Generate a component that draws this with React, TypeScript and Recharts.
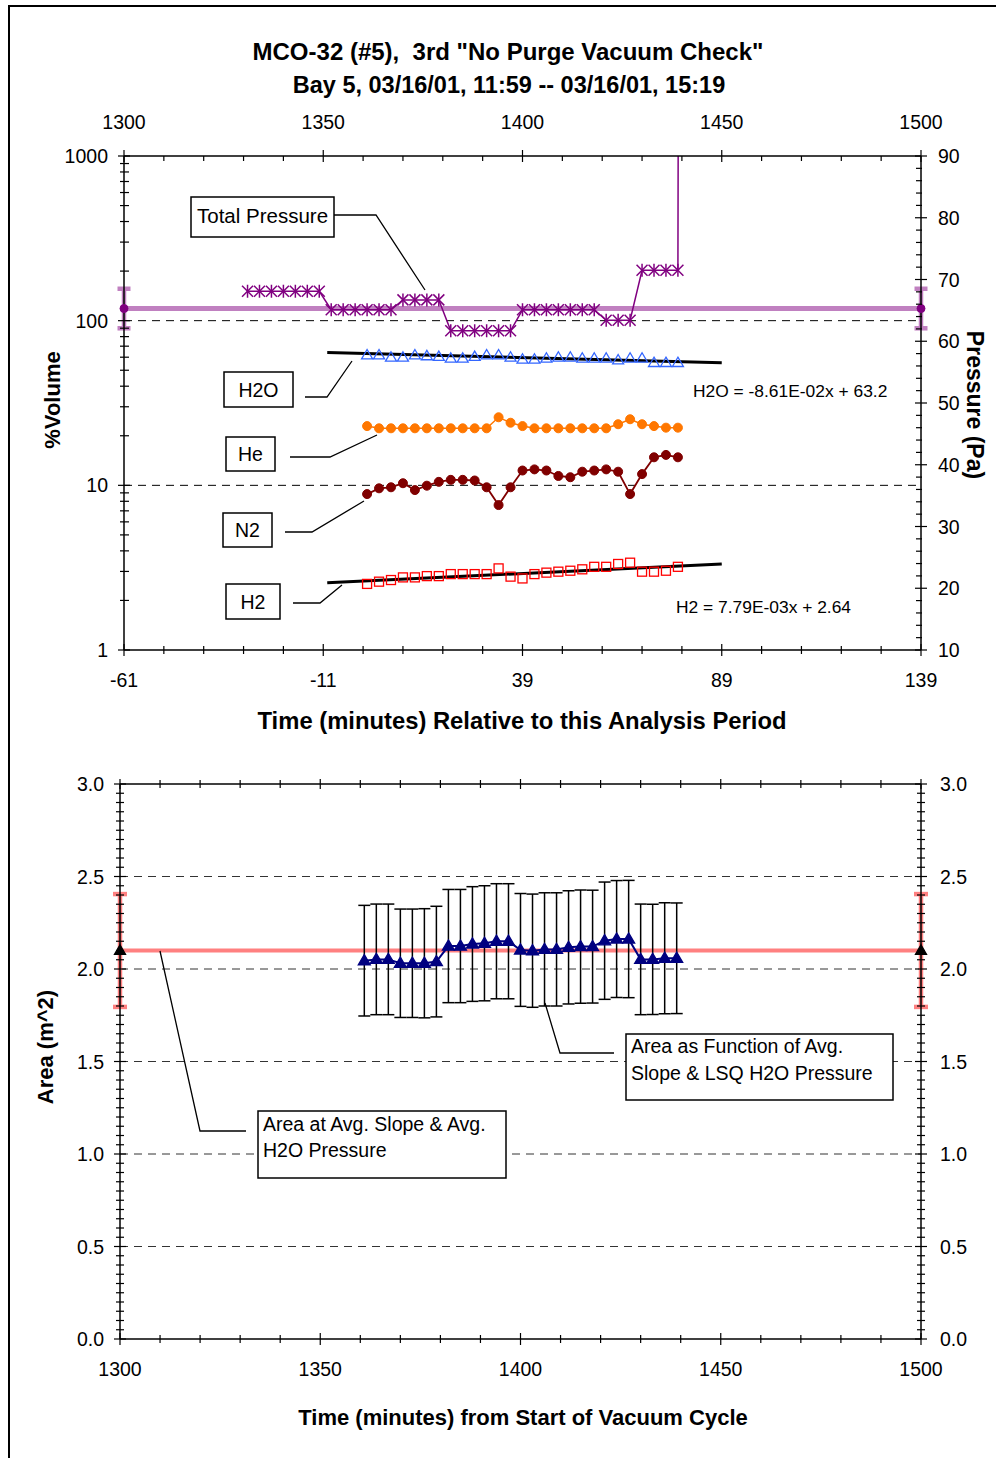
import React from 'react';
import { ComposedChart, Line, XAxis, YAxis, ErrorBar, ReferenceLine } from 'recharts';

const FONT = '"Liberation Sans", Arial, Helvetica, sans-serif';

// gas samples, minutes from start of vacuum cycle
const gasTimes = [1361, 1364, 1367, 1370, 1373, 1376, 1379, 1382, 1385, 1388, 1391, 1394, 1397, 1400, 1403, 1406, 1409, 1412, 1415, 1418, 1421, 1424, 1427, 1430, 1433, 1436, 1439];
const h2oPct = [61.8, 61.8, 59.9, 59.9, 61.8, 61.0, 60.4, 59.0, 59.0, 60.4, 61.8, 61.8, 59.9, 58.2, 58.2, 59.0, 59.9, 59.9, 59.0, 59.0, 59.0, 57.6, 59.0, 59.0, 55.5, 55.5, 55.5];
const hePct = [22.9, 22.2, 22.2, 22.2, 22.2, 22.2, 22.2, 22.2, 22.2, 22.2, 22.2, 25.9, 24.0, 22.9, 22.2, 22.2, 22.2, 22.2, 22.2, 22.2, 22.2, 23.5, 25.2, 23.5, 22.9, 22.4, 22.4];
const n2Pct = [8.85, 9.59, 9.73, 10.3, 9.36, 9.95, 10.5, 10.8, 10.8, 10.7, 9.73, 7.59, 9.73, 12.3, 12.5, 12.3, 11.4, 11.2, 12.1, 12.3, 12.5, 12.1, 8.85, 11.7, 14.8, 15.3, 14.8];
const h2Pct = [2.52, 2.6, 2.66, 2.76, 2.76, 2.81, 2.81, 2.89, 2.89, 2.89, 2.89, 3.13, 2.79, 2.72, 2.89, 2.95, 2.99, 3.03, 3.09, 3.2, 3.2, 3.33, 3.39, 2.99, 2.99, 3.03, 3.2];

// least squares lines, end points
const fitTimes = [1351, 1450];
const h2oFit = [64.1, 55.5];
const h2Fit = [2.56, 3.33];

// total pressure (Pa); last reading is off scale
const tpTimes = [1331, 1334, 1337, 1340, 1343, 1346, 1349, 1352, 1355, 1358, 1361, 1364, 1367, 1370, 1373, 1376, 1379, 1382, 1385, 1388, 1391, 1394, 1397, 1400, 1403, 1406, 1409, 1412, 1415, 1418, 1421, 1424, 1427, 1430, 1433, 1436, 1439, 1442];
const tpPa = [68.1, 68.1, 68.1, 68.1, 68.1, 68.1, 68.1, 65.1, 65.1, 65.1, 65.1, 65.1, 65.1, 66.7, 66.7, 66.7, 66.7, 61.7, 61.7, 61.7, 61.7, 61.7, 61.7, 65.1, 65.1, 65.1, 65.1, 65.1, 65.1, 65.1, 63.4, 63.4, 63.4, 71.5, 71.5, 71.5, 71.5, 1000];

// period averages
const avgTimes = [1300, 1500];
const avgPa = [65.3, 65.3];
const avgPaErr = [3.2, 3.2];
const avgArea = [2.1, 2.1];
const avgAreaErr = [0.305, 0.305];

// area per sample
const areaM2 = [2.045, 2.052, 2.052, 2.031, 2.031, 2.031, 2.04, 2.124, 2.124, 2.135, 2.139, 2.15, 2.15, 2.103, 2.099, 2.106, 2.106, 2.117, 2.121, 2.121, 2.153, 2.162, 2.162, 2.052, 2.052, 2.058, 2.058];
const areaErr = [0.299, 0.299, 0.299, 0.293, 0.293, 0.295, 0.299, 0.306, 0.306, 0.31, 0.311, 0.311, 0.311, 0.305, 0.306, 0.306, 0.306, 0.306, 0.306, 0.305, 0.317, 0.316, 0.317, 0.299, 0.298, 0.3, 0.299];

const periodStart = 1361; // analysis period start, for the relative axis
const logGrid = [10, 100];
const areaGrid = [0.5, 1.0, 1.5, 2.0, 2.5];

const gasData = gasTimes.map((t, i) => ({ t, h2o: h2oPct[i], he: hePct[i], n2: n2Pct[i], h2: h2Pct[i], area: areaM2[i], err: areaErr[i] }));
const fitData = fitTimes.map((t, i) => ({ t, h2o: h2oFit[i], h2: h2Fit[i] }));
const tpData = tpTimes.map((t, i) => ({ t, v: tpPa[i] }));
const avgData = avgTimes.map((t, i) => ({ t, pa: avgPa[i], paErr: avgPaErr[i], area: avgArea[i], areaErr: avgAreaErr[i] }));

// tick positions
const absTicks: number[] = [];
for (let v = 1300; v <= 1500; v += 10) absTicks.push(v);
const logTicks: number[] = [];
[1, 10, 100].forEach((d) => { for (let m = 1; m < 10; m++) logTicks.push(d * m); });
logTicks.push(1000);
const paTicks: number[] = [];
for (let v = 10; v <= 90; v += 2) paTicks.push(v);
const areaTicks: number[] = [];
for (let i = 0; i <= 60; i++) areaTicks.push(i / 20);

type Side = 'left' | 'right' | 'top' | 'bottom';
interface TickSpec {
  side: Side;
  isMajor: (v: number) => boolean;
  label?: (v: number) => string;
  major: [number, number]; // outside, inside
  minor: [number, number];
  gap: number;
}

const makeTick = (s: TickSpec) => (props: any) => {
  const { x, y, payload, index } = props;
  const v = payload.value;
  const maj = s.isMajor(v);
  const [out, inn] = maj ? s.major : s.minor;
  const txt = maj && s.label ? s.label(v) : '';
  const ln = { stroke: '#000', strokeWidth: 1.2 };
  let line;
  let text;
  if (s.side === 'left') {
    line = <line x1={x - out} x2={x + inn} y1={y} y2={y} {...ln} />;
    text = <text x={x - s.gap} y={y} dy="0.36em" textAnchor="end">{txt}</text>;
  } else if (s.side === 'right') {
    line = <line x1={x - inn} x2={x + out} y1={y} y2={y} {...ln} />;
    text = <text x={x + s.gap} y={y} dy="0.36em" textAnchor="start">{txt}</text>;
  } else if (s.side === 'top') {
    line = <line x1={x} x2={x} y1={y - out} y2={y + inn} {...ln} />;
    text = <text x={x} y={y - s.gap} textAnchor="middle">{txt}</text>;
  } else {
    line = <line x1={x} x2={x} y1={y - inn} y2={y + out} {...ln} />;
    text = <text x={x} y={y + s.gap} dy="0.72em" textAnchor="middle">{txt}</text>;
  }
  return (
    <g key={index} fontSize={19.5} fontFamily={FONT} fill="#000">
      {line}
      {txt && text}
    </g>
  );
};

const isAbsMajor = (v: number) => (v - 1300) % 50 === 0;
const isAreaMajor = (v: number) => Math.round(v * 20) % 10 === 0;

// markers
const asteriskDot = (p: any) => {
  const { cx, cy, index } = p;
  if (cx == null || cy == null) return <g key={index} />;
  const r = 5.5;
  return (
    <g key={index} stroke="#800080" strokeWidth={1.5}>
      <line x1={cx - r} y1={cy - r} x2={cx + r} y2={cy + r} />
      <line x1={cx - r} y1={cy + r} x2={cx + r} y2={cy - r} />
      <line x1={cx} y1={cy - r - 1} x2={cx} y2={cy + r + 1} />
    </g>
  );
};

const triDot = (w: number, fill: string, stroke: string) => (p: any) => {
  const { cx, cy, index } = p;
  if (cx == null || cy == null) return <g key={index} />;
  const h = w * 0.85;
  return (
    <polygon
      key={index}
      points={`${cx},${cy - h * 0.6} ${cx + w / 2},${cy + h * 0.4} ${cx - w / 2},${cy + h * 0.4}`}
      fill={fill}
      stroke={stroke}
      strokeWidth={1.3}
    />
  );
};

const squareDot = (p: any) => {
  const { cx, cy, index } = p;
  if (cx == null || cy == null) return <g key={index} />;
  return <rect key={index} x={cx - 4.5} y={cy - 4.5} width={9} height={9} fill="none" stroke="#FF0000" strokeWidth={1.3} />;
};

const circleDot = (r: number, fill: string) => (p: any) => {
  const { cx, cy, index } = p;
  if (cx == null || cy == null) return <g key={index} />;
  return <circle key={index} cx={cx} cy={cy} r={r} fill={fill} stroke={fill} />;
};

const axisLine = { stroke: '#000', strokeWidth: 1.5 };

const TopChart = () => (
  <ComposedChart width={996} height={760} margin={{ top: 116, right: 15, bottom: 70, left: 64 }}>
    <XAxis xAxisId="abs" orientation="top" type="number" dataKey="t" domain={[1300, 1500]} ticks={absTicks} interval={0}
      height={40} tickSize={0} tickMargin={0} tickLine={false} axisLine={axisLine}
      tick={makeTick({ side: 'top', isMajor: isAbsMajor, label: (v) => String(v), major: [6, 6], minor: [0, 5], gap: 27 })} />
    <XAxis xAxisId="rel" orientation="bottom" type="number" dataKey="t" domain={[1300, 1500]} ticks={absTicks} interval={0}
      height={40} tickSize={0} tickMargin={0} tickLine={false} axisLine={axisLine}
      tick={makeTick({ side: 'bottom', isMajor: isAbsMajor, label: (v) => String(v - periodStart), major: [6, 6], minor: [4, 4], gap: 23 })} />
    <YAxis yAxisId="pct" orientation="left" type="number" scale="log" domain={[1, 1000]} ticks={logTicks} interval={0}
      width={60} tickSize={0} tickMargin={0} tickLine={false} axisLine={axisLine} allowDataOverflow
      tick={makeTick({ side: 'left', isMajor: (v) => [1, 10, 100, 1000].includes(v), label: (v) => String(v), major: [6, 6], minor: [4, 5], gap: 16 })} />
    <YAxis yAxisId="pa" orientation="right" type="number" domain={[10, 90]} ticks={paTicks} interval={0}
      width={60} tickSize={0} tickMargin={0} tickLine={false} axisLine={axisLine}
      tick={makeTick({ side: 'right', isMajor: (v) => v % 10 === 0, label: (v) => String(v), major: [6, 6], minor: [1, 5], gap: 17 })} />
    <YAxis yAxisId="paClip" orientation="right" type="number" domain={[10, 90]} allowDataOverflow hide />

    {logGrid.map((g) => (
      <ReferenceLine key={g} xAxisId="abs" yAxisId="pct" y={g} stroke="#000" strokeWidth={1} strokeDasharray="8 6" />
    ))}

    {/* invisible carrier so the relative-time axis gets its scale */}
    <Line data={avgData} xAxisId="rel" yAxisId="pa" dataKey="pa" stroke="none" dot={false} activeDot={false} isAnimationActive={false} />
    <Line data={avgData} xAxisId="abs" yAxisId="pa" dataKey="pa" stroke="#C080C0" strokeWidth={5}
      dot={circleDot(4, '#800080')} activeDot={false} isAnimationActive={false}>
      <ErrorBar dataKey="paErr" width={6.5} strokeWidth={4.5} stroke="#C080C0" direction="y" />
    </Line>
    <Line data={tpData} xAxisId="abs" yAxisId="paClip" dataKey="v" stroke="#800080" strokeWidth={1.5}
      dot={asteriskDot} activeDot={false} isAnimationActive={false} />

    <Line data={fitData} xAxisId="abs" yAxisId="pct" dataKey="h2o" stroke="#000" strokeWidth={3} dot={false} activeDot={false} isAnimationActive={false} />
    <Line data={fitData} xAxisId="abs" yAxisId="pct" dataKey="h2" stroke="#000" strokeWidth={3} dot={false} activeDot={false} isAnimationActive={false} />
    <Line data={gasData} xAxisId="abs" yAxisId="pct" dataKey="h2o" stroke="none" dot={triDot(11, 'none', '#3366FF')} activeDot={false} isAnimationActive={false} />
    <Line data={gasData} xAxisId="abs" yAxisId="pct" dataKey="he" stroke="#FF7700" strokeWidth={1.5} dot={circleDot(4.5, '#FF7700')} activeDot={false} isAnimationActive={false} />
    <Line data={gasData} xAxisId="abs" yAxisId="pct" dataKey="n2" stroke="#800000" strokeWidth={1.8} dot={circleDot(4.5, '#800000')} activeDot={false} isAnimationActive={false} />
    <Line data={gasData} xAxisId="abs" yAxisId="pct" dataKey="h2" stroke="none" dot={squareDot} activeDot={false} isAnimationActive={false} />
  </ComposedChart>
);

const BottomChart = () => (
  <ComposedChart width={996} height={698} margin={{ top: 4, right: 15, bottom: 79, left: 60 }}>
    <XAxis xAxisId="b" orientation="bottom" type="number" dataKey="t" domain={[1300, 1500]} ticks={absTicks} interval={0}
      height={40} tickSize={0} tickMargin={0} tickLine={false} axisLine={axisLine}
      tick={makeTick({ side: 'bottom', isMajor: isAbsMajor, label: (v) => String(v), major: [6, 6], minor: [4, 4], gap: 23 })} />
    <XAxis xAxisId="bt" orientation="top" type="number" dataKey="t" domain={[1300, 1500]} ticks={absTicks} interval={0}
      height={20} tickSize={0} tickMargin={0} tickLine={false} axisLine={axisLine}
      tick={makeTick({ side: 'top', isMajor: isAbsMajor, major: [5, 5], minor: [4, 4], gap: 10 })} />
    <YAxis yAxisId="area" orientation="left" type="number" domain={[0, 3]} ticks={areaTicks} interval={0}
      width={60} tickSize={0} tickMargin={0} tickLine={false} axisLine={axisLine}
      tick={makeTick({ side: 'left', isMajor: isAreaMajor, label: (v) => v.toFixed(1), major: [6, 6], minor: [4, 4], gap: 16 })} />
    <YAxis yAxisId="areaR" orientation="right" type="number" domain={[0, 3]} ticks={areaTicks} interval={0}
      width={60} tickSize={0} tickMargin={0} tickLine={false} axisLine={axisLine}
      tick={makeTick({ side: 'right', isMajor: isAreaMajor, label: (v) => v.toFixed(1), major: [6, 6], minor: [4, 4], gap: 19 })} />

    {areaGrid.map((g) => (
      <ReferenceLine key={g} xAxisId="b" yAxisId="area" y={g} stroke="#333" strokeWidth={1} strokeDasharray="8 6" />
    ))}

    <Line data={avgData} xAxisId="bt" yAxisId="areaR" dataKey="area" stroke="none" dot={false} activeDot={false} isAnimationActive={false} />
    <Line data={avgData} xAxisId="b" yAxisId="area" dataKey="area" stroke="#FF8080" strokeWidth={4}
      dot={triDot(11, '#000', '#000')} activeDot={false} isAnimationActive={false}>
      <ErrorBar dataKey="areaErr" width={7} strokeWidth={4.5} stroke="#FF8080" direction="y" />
    </Line>
    <Line data={gasData} xAxisId="b" yAxisId="area" dataKey="area" stroke="#000080" strokeWidth={2}
      dot={triDot(12, '#000080', '#000080')} activeDot={false} isAnimationActive={false}>
      <ErrorBar dataKey="err" width={6} strokeWidth={1.5} stroke="#000" direction="y" />
    </Line>
  </ComposedChart>
);

const Box = ({ x, y, w, h }: { x: number; y: number; w: number; h: number }) => (
  <rect x={x} y={y} width={w} height={h} fill="#fff" stroke="#000" strokeWidth={1.5} />
);

const Leader = ({ pts }: { pts: number[][] }) => (
  <polyline points={pts.map((p) => p.join(',')).join(' ')} fill="none" stroke="#000" strokeWidth={1.3} />
);

const Overlay = () => (
  <svg width={996} height={1458} style={{ position: 'absolute', left: 0, top: 0, pointerEvents: 'none' }} fontFamily={FONT}>
    <g fontWeight="bold" textAnchor="middle">
      <text x={508} y={60} fontSize={24}>{'MCO-32 (#5),\u00A0 3rd "No Purge Vacuum Check"'}</text>
      <text x={509} y={93} fontSize={23.5}>Bay 5, 03/16/01, 11:59 -- 03/16/01, 15:19</text>
      <text x={522} y={729} fontSize={23.8}>Time (minutes) Relative to this Analysis Period</text>
      <text x={523} y={1425} fontSize={22}>Time (minutes) from Start of Vacuum Cycle</text>
      <text transform="translate(60,400) rotate(-90)" fontSize={22}>%Volume</text>
      <text transform="translate(967,405) rotate(90)" fontSize={23}>Pressure (Pa)</text>
      <text transform="translate(53,1047) rotate(-90)" fontSize={22}>Area (m^2)</text>
    </g>

    <g fontSize={19.5}>
      <Leader pts={[[334, 215], [376, 215], [425, 290]]} />
      <Box x={191} y={197} w={143} h={40} />
      <text x={197} y={223} fontSize={20.5}>Total Pressure</text>

      <Leader pts={[[305, 397], [327, 397], [352, 361]]} />
      <Box x={224} y={372} w={69} h={35} />
      <text x={258.5} y={397} textAnchor="middle">H2O</text>

      <Leader pts={[[290, 457], [330, 457], [377, 435]]} />
      <Box x={226} y={437} w={49} h={34} />
      <text x={250.5} y={461} textAnchor="middle">He</text>

      <Leader pts={[[285, 532], [312, 532], [364, 501]]} />
      <Box x={223} y={513} w={49} h={34} />
      <text x={247.5} y={537} textAnchor="middle">N2</text>

      <Leader pts={[[293, 603], [320, 603], [342, 585]]} />
      <Box x={226} y={584} w={54} h={35} />
      <text x={253} y={609} textAnchor="middle">H2</text>

      <text x={693} y={397} fontSize={17.4}>H2O = -8.61E-02x + 63.2</text>
      <text x={676} y={613} fontSize={17.4}>H2 = 7.79E-03x + 2.64</text>

      <Leader pts={[[614, 1053], [560, 1053], [545, 1003]]} />
      <Box x={626} y={1034} w={267} h={66} />
      <text x={631} y={1053}>Area as Function of Avg.</text>
      <text x={631} y={1080}>{'Slope & LSQ H2O Pressure'}</text>

      <Leader pts={[[246, 1131], [200, 1131], [160, 951]]} />
      <Box x={258} y={1111} w={248} h={67} />
      <text x={263} y={1131}>{'Area at Avg. Slope & Avg.'}</text>
      <text x={263} y={1157}>H2O Pressure</text>
    </g>
  </svg>
);

export default function App() {
  return (
    <div style={{ position: 'absolute', left: 0, top: 0, width: 996, height: 1458, background: '#fff', overflow: 'hidden', fontFamily: FONT }}>
      <div style={{ position: 'absolute', left: 8, top: 5, width: 1100, height: 1600, borderLeft: '2px solid #000', borderTop: '2px solid #000' }} />
      <div style={{ position: 'absolute', left: 0, top: 0 }}>
        <TopChart />
      </div>
      <div style={{ position: 'absolute', left: 0, top: 760 }}>
        <BottomChart />
      </div>
      <Overlay />
    </div>
  );
}
